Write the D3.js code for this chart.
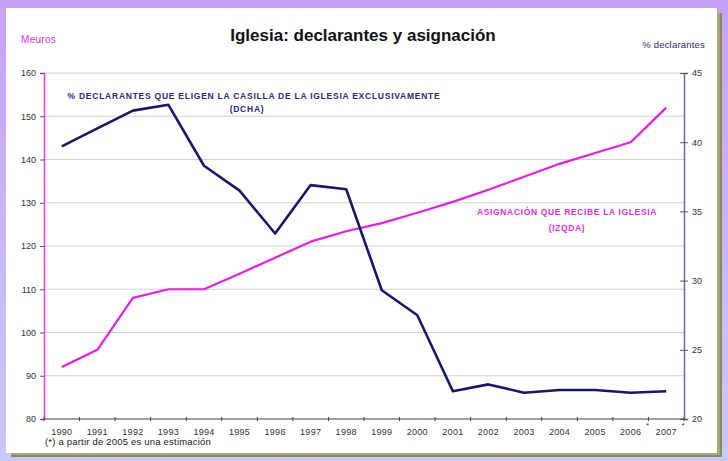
<!DOCTYPE html>
<html>
<head>
<meta charset="utf-8">
<script src="https://cdn.jsdelivr.net/npm/d3@7"></script>
<style>
  html, body { margin: 0; padding: 0; }
  body { width: 728px; height: 461px; overflow: hidden; }
  text { font-family: "Liberation Sans", Arial, sans-serif; }
</style>
</head>
<body>
<svg id="chart" width="728" height="461"></svg>
<script>
// Years on the x axis
const years = ["1990","1991","1992","1993","1994","1995","1996","1997","1998",
               "1999","2000","2001","2002","2003","2004","2005","2006","2007"];
// Assignment received by the Church, millions of euros (left axis)
const asignacion = [92, 96, 108, 110, 110, 113.6, 117.3, 121, 123.4,
                    125.3, 127.7, 130.2, 133, 136, 139, 141.5, 144, 152];
// % of taxpayers ticking only the Church box (right axis)
const declarantes = [39.7, 41.0, 42.28, 42.7, 38.3, 36.5, 33.4, 36.9, 36.6,
                     29.3, 27.5, 22.0, 22.5, 21.9, 22.1, 22.1, 21.9, 22.0];
const leftTicks = [80, 90, 100, 110, 120, 130, 140, 150, 160];
const rightTicks = [20, 25, 30, 35, 40, 45];
const estimatedYears = ["2006", "2007"];

const svg = d3.select("#chart");
const W = 728, H = 461;

// Backdrop and framed panel
const defs = svg.append("defs");
const bg = defs.append("linearGradient").attr("id", "bg")
  .attr("x1", 0).attr("y1", 0).attr("x2", 0).attr("y2", 1);
bg.append("stop").attr("offset", "0%").attr("stop-color", "#c9a1f8");
bg.append("stop").attr("offset", "100%").attr("stop-color", "#c8c9f9");
svg.append("rect").attr("width", W).attr("height", H).attr("fill", "url(#bg)");

svg.append("rect").attr("x", 11).attr("y", 13).attr("width", 711).attr("height", 444)
  .attr("fill", "#8b8a5c");
svg.append("rect").attr("x", 11).attr("y", 13).attr("width", 709).attr("height", 442)
  .attr("fill", "#a9a87c");
svg.append("rect").attr("x", 6).attr("y", 8).attr("width", 711).attr("height", 445)
  .attr("fill", "#ffffff");

const m = { left: 44, right: 684, top: 73, bottom: 419 };

const x = d3.scalePoint().domain(years).range([m.left, m.right]).padding(0.5);
const band = (m.right - m.left) / years.length;
const yL = d3.scaleLinear().domain([80, 160]).range([m.bottom, m.top]);
const yR = d3.scaleLinear().domain([20, 45]).range([m.bottom, m.top]);

// Horizontal gridlines
svg.append("g").selectAll("line").data(leftTicks.filter(d => d > 80)).join("line")
  .attr("x1", m.left).attr("x2", m.right)
  .attr("y1", d => yL(d)).attr("y2", d => yL(d))
  .attr("stroke", "#d2d2d2").attr("stroke-width", 1.2);

// Left axis (Meuros)
const gL = svg.append("g").attr("transform", `translate(${m.left},0)`)
  .call(d3.axisLeft(yL).tickValues(leftTicks).tickSize(4).tickPadding(4));
gL.select(".domain").attr("stroke", "#e040e0").attr("stroke-width", 1.5);
gL.selectAll(".tick line").attr("stroke", "#555");
gL.selectAll(".tick text").attr("fill", "#333").style("font-size", "9px")
  .style("font-family", "'Liberation Sans', Arial, sans-serif");

// Right axis (% declarantes)
const gR = svg.append("g").attr("transform", `translate(${m.right},0)`)
  .call(d3.axisRight(yR).tickValues(rightTicks).tickSize(4).tickPadding(4));
gR.select(".domain").attr("stroke", "#6a6aa8").attr("stroke-width", 1.5);
gR.selectAll(".tick line").attr("x1", -4).attr("stroke", "#555");
gR.selectAll(".tick text").attr("fill", "#333").style("font-size", "9px")
  .style("font-family", "'Liberation Sans', Arial, sans-serif");

// Bottom axis with ticks at category boundaries
const gX = svg.append("g").attr("transform", `translate(0,${m.bottom})`);
gX.append("line").attr("x1", m.left).attr("x2", m.right)
  .attr("stroke", "#444").attr("stroke-width", 1.2);
gX.selectAll("line.tk").data(d3.range(years.length + 1)).join("line").attr("class", "tk")
  .attr("x1", i => m.left + i * band).attr("x2", i => m.left + i * band)
  .attr("y1", -2).attr("y2", 2).attr("stroke", "#444");
gX.selectAll("text.yr").data(years).join("text").attr("class", "yr")
  .attr("x", d => x(d)).attr("y", 16).attr("text-anchor", "middle")
  .attr("fill", "#333").style("font-size", "9px").style("letter-spacing", "0.3px")
  .text(d => d);
gX.selectAll("text.est").data(estimatedYears).join("text").attr("class", "est")
  .attr("x", d => x(d) + band / 2 - 1).attr("y", 9).attr("text-anchor", "middle")
  .attr("fill", "#333").style("font-size", "8px").text("*");

// Series lines
const lineL = d3.line().x((d, i) => x(years[i])).y(d => yL(d));
const lineR = d3.line().x((d, i) => x(years[i])).y(d => yR(d));
svg.append("path").datum(asignacion).attr("d", lineL)
  .attr("fill", "none").attr("stroke", "#e61ee6").attr("stroke-width", 2.2)
  .attr("stroke-linejoin", "round");
svg.append("path").datum(declarantes).attr("d", lineR)
  .attr("fill", "none").attr("stroke", "#18186b").attr("stroke-width", 2.6)
  .attr("stroke-linejoin", "round");

// Titles and labels
svg.append("text").attr("x", 363).attr("y", 41).attr("text-anchor", "middle")
  .style("font-size", "17px").style("font-weight", "bold").attr("fill", "#111")
  .text("Iglesia: declarantes y asignación");
svg.append("text").attr("x", 21).attr("y", 43).attr("fill", "#e030e0")
  .style("font-size", "10px").style("letter-spacing", "0.3px").text("Meuros");
svg.append("text").attr("x", 705).attr("y", 48).attr("text-anchor", "end")
  .attr("fill", "#2a2a70").style("font-size", "9.5px").style("letter-spacing", "0.2px")
  .text("% declarantes");

svg.append("text").attr("x", 254).attr("y", 99).attr("text-anchor", "middle")
  .attr("fill", "#2a2a80").style("font-size", "8.5px").style("font-weight", "bold")
  .style("letter-spacing", "0.75px")
  .text("% DECLARANTES QUE ELIGEN LA CASILLA DE LA IGLESIA EXCLUSIVAMENTE");
svg.append("text").attr("x", 247).attr("y", 112).attr("text-anchor", "middle")
  .attr("fill", "#2a2a80").style("font-size", "8.5px").style("font-weight", "bold")
  .style("letter-spacing", "0.75px").text("(DCHA)");

svg.append("text").attr("x", 567).attr("y", 215).attr("text-anchor", "middle")
  .attr("fill", "#e030e0").style("font-size", "8.5px").style("font-weight", "bold")
  .style("letter-spacing", "0.65px").text("ASIGNACIÓN QUE RECIBE LA IGLESIA");
svg.append("text").attr("x", 567).attr("y", 231).attr("text-anchor", "middle")
  .attr("fill", "#e030e0").style("font-size", "8.5px").style("font-weight", "bold")
  .style("letter-spacing", "0.65px").text("(IZQDA)");

svg.append("text").attr("x", 45).attr("y", 445).attr("fill", "#222")
  .style("font-size", "9.5px").style("letter-spacing", "0.2px")
  .text("(*) a partir de 2005 es una estimación");
</script>
</body>
</html>
